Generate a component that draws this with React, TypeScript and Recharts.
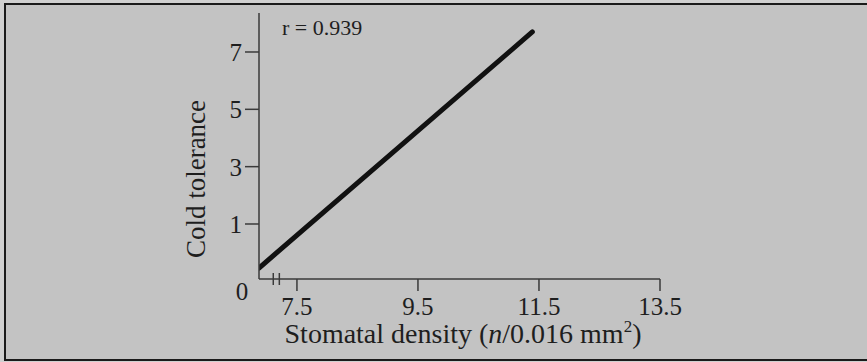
import React from 'react';
import { LineChart, Line, XAxis, YAxis, ReferenceLine, Label } from 'recharts';

// values
const xTicks = [7.5, 9.5, 11.5, 13.5];
const yTicks = [1, 3, 5, 7];
const xDomain = [6.873, 13.5];
const yDomain = [-0.919, 8.36];
const fitX = [6.873, 11.39];
const fitY = [-0.535, 7.7];
const breakX = [7.109, 7.209];
const breakY = [-0.71, -1.128];
const rText = 'r = 0.939';
const originText = '0';
const yTitle = 'Cold tolerance';

const data = fitX.map((x, i) => ({ x, y: fitY[i] }));

const serif = "'Liberation Serif', 'Times New Roman', serif";
const ink = '#1e1e1e';
const axisGray = '#3a3a3a';

export default function App() {
  return (
    <div style={{ position: 'fixed', left: 0, top: 0, width: 867, height: 362, background: '#d0d0d0', overflow: 'hidden' }}>
      <div
        style={{
          position: 'absolute', left: 4, top: 3, width: 870, height: 354,
          background: '#c3c3c3', borderTop: '2px solid #1a1a1a', borderLeft: '2px solid #1a1a1a', borderBottom: '2px solid #1a1a1a',
        }}
      />
      <div style={{ position: 'absolute', left: 0, top: 0 }}>
        <LineChart width={867} height={362} data={data} margin={{ top: 13, left: 199, right: 207, bottom: 43 }}>
          <XAxis
            type="number"
            dataKey="x"
            domain={xDomain}
            ticks={xTicks}
            allowDataOverflow
            height={40}
            tickFormatter={(v: number) => v.toFixed(1)}
            tick={{ fill: ink, fontSize: 25, fontFamily: serif }}
            tickSize={12}
            tickMargin={6}
            axisLine={{ stroke: axisGray, strokeWidth: 1.5 }}
            tickLine={{ stroke: axisGray, strokeWidth: 1.5 }}
          >
            <Label
              content={() => (
                <text x={463} y={343} textAnchor="middle" fill={ink} fontSize={28} fontFamily={serif}>
                  Stomatal density (<tspan fontStyle="italic">n</tspan>/0.016 mm
                  <tspan fontSize={17} dy={-11}>2</tspan>
                  <tspan dy={11}>)</tspan>
                </text>
              )}
            />
          </XAxis>
          <YAxis
            type="number"
            domain={yDomain}
            ticks={yTicks}
            allowDataOverflow
            width={60}
            tick={{ fill: ink, fontSize: 25, fontFamily: serif }}
            tickSize={14}
            tickMargin={3}
            axisLine={{ stroke: axisGray, strokeWidth: 1.5 }}
            tickLine={{ stroke: axisGray, strokeWidth: 1.5 }}
          >
            <Label
              content={() => (
                <g>
                  <text x={205} y={179} transform="rotate(-90 205 179)" textAnchor="middle" fill={ink} fontSize={27} fontFamily={serif}>
                    {yTitle}
                  </text>
                  <text x={242} y={300} textAnchor="middle" fill={ink} fontSize={25} fontFamily={serif}>
                    {originText}
                  </text>
                  <text x={282} y={35} textAnchor="start" fill={ink} fontSize={22} fontFamily={serif}>
                    {rText}
                  </text>
                </g>
              )}
            />
          </YAxis>
          {breakX.map((bx) => (
            <ReferenceLine
              key={bx}
              segment={[{ x: bx, y: breakY[0] }, { x: bx, y: breakY[1] }]}
              ifOverflow="visible"
              stroke={axisGray}
              strokeWidth={1.5}
            />
          ))}
          <Line
            type="linear"
            dataKey="y"
            stroke="#111"
            strokeWidth={5}
            strokeLinecap="round"
            dot={false}
            activeDot={false}
            isAnimationActive={false}
          />
        </LineChart>
      </div>
    </div>
  );
}
